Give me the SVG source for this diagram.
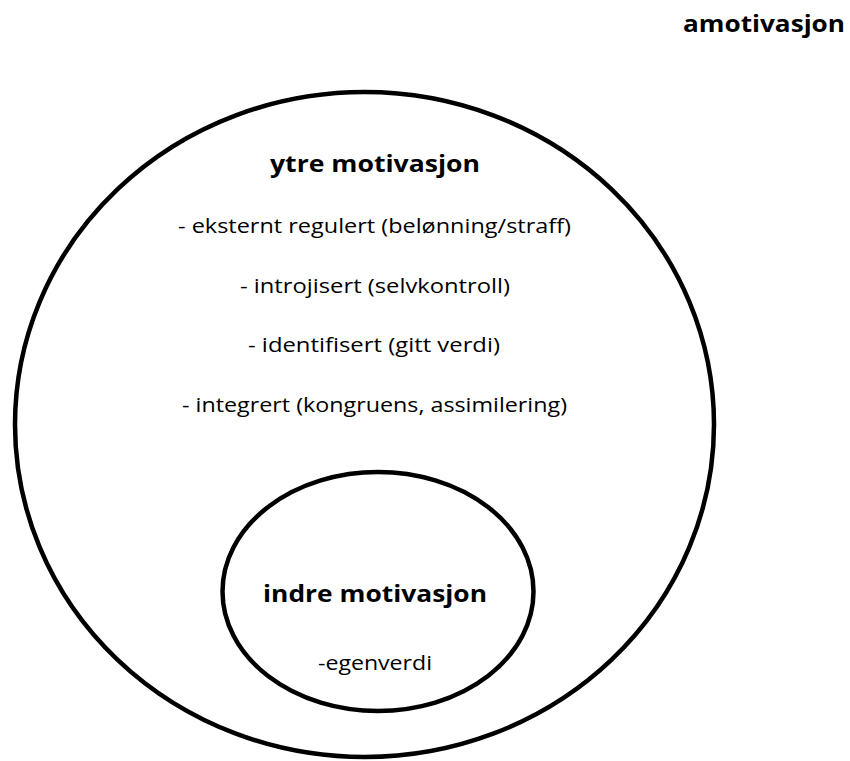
<svg xmlns="http://www.w3.org/2000/svg" width="850" height="761" viewBox="0 0 850 761">
  <style>
    .ring { fill: none; stroke: #000; stroke-width: 4.5; }
    .t { font-family: "Open Sans", "Liberation Sans", sans-serif; fill: #000; }
    .b { font-weight: bold; font-size: 23px; }
    .r { font-size: 20px; }
  </style>
  <rect width="850" height="761" fill="#fff"/>
  <g id="amotivasjon">
    <text class="t b" x="683" y="32" textLength="162" lengthAdjust="spacingAndGlyphs">amotivasjon</text>
  </g>
  <g id="ytre-motivasjon">
    <ellipse class="ring" cx="364.5" cy="424.5" rx="349.5" ry="332.5"/>
    <text class="t b" x="270" y="172" textLength="210" lengthAdjust="spacingAndGlyphs">ytre motivasjon</text>
    <text class="t r" x="178" y="233" textLength="393" lengthAdjust="spacingAndGlyphs">- eksternt regulert (belønning/straff)</text>
    <text class="t r" x="240" y="293" textLength="270" lengthAdjust="spacingAndGlyphs">- introjisert (selvkontroll)</text>
    <text class="t r" x="248" y="352" textLength="252" lengthAdjust="spacingAndGlyphs">- identifisert (gitt verdi)</text>
    <text class="t r" x="182" y="412" textLength="385" lengthAdjust="spacingAndGlyphs">- integrert (kongruens, assimilering)</text>
  </g>
  <g id="indre-motivasjon">
    <ellipse class="ring" cx="378" cy="591.5" rx="155.5" ry="119.5"/>
    <text class="t b" x="263" y="602" textLength="224" lengthAdjust="spacingAndGlyphs">indre motivasjon</text>
    <text class="t r" x="318" y="670" textLength="114" lengthAdjust="spacingAndGlyphs">-egenverdi</text>
  </g>
  <g id="connectors"/>
</svg>
